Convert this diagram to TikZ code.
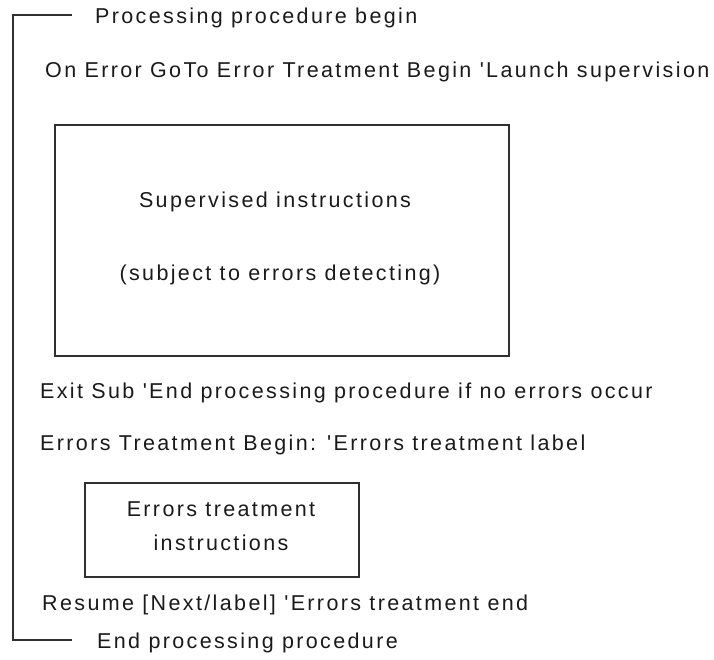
\documentclass[tikz,border=0pt]{standalone}
\usepackage{fontspec}
\newfontfamily\codefont{Liberation Sans}[LetterSpace=11]
\usetikzlibrary{positioning}
\definecolor{cink}{HTML}{1A1A1A}
\definecolor{cline}{HTML}{303030}

\begin{document}
\begin{tikzpicture}[
  x=1pt, y=-1pt,
  % one line of the listing, placed by its baseline
  codeline/.style = {font=\fontsize{21.5}{25}\selectfont\codefont, text=cink,
                     anchor=base west, inner sep=0pt},
  % a block of instructions is a plain framed box
  block/.style    = {draw=cline, line width=1.3pt, inner sep=0pt},
  blocktext/.style= {font=\fontsize{21.5}{25}\selectfont\codefont, text=cink,
                     anchor=base, inner sep=0pt},
  bracket/.style  = {draw=cline, line width=1.1pt},
]
\useasboundingbox (0,0) rectangle (714,660);

% ============================ procedure frame ===============================
\coordinate (topend)  at (72,15);
\coordinate (topcorn) at (13,15);
\coordinate (botcorn) at (13,640);
\coordinate (botend)  at (72,640);
\draw[bracket] (topend) -- (topcorn) -- (botcorn) -- (botend);

\node[codeline] (procbegin) at (95,24)  {Processing procedure begin};
\node[codeline] (onerror)   at (45,78)  {On Error GoTo Error Treatment Begin 'Launch supervision};

% ============================ supervised part ===============================
\node[block, minimum width=454pt, minimum height=231pt] (supbox) at (282,240.5) {};
\node[blocktext] (suptitle) at (275,208) {Supervised instructions};
\node[blocktext] (supnote)  at (280,280) {(subject to errors detecting)};

\node[codeline] (exitsub)  at (40,398) {Exit Sub 'End processing procedure if no errors occur};
\node[codeline] (errlabel) at (40,450) {Errors Treatment Begin: 'Errors treatment label};

% ============================ error treatment ===============================
\node[block, minimum width=274pt, minimum height=94pt] (errbox) at (222,530) {};
\node[blocktext] (errline1) at (221,516.5) {Errors treatment};
\node[blocktext] (errline2) at (221,550)   {instructions};

\node[codeline] (resume)  at (42,610) {Resume [Next/label] 'Errors treatment end};
\node[codeline] (procend) at (97,648) {End processing procedure};

\end{tikzpicture}
\end{document}
